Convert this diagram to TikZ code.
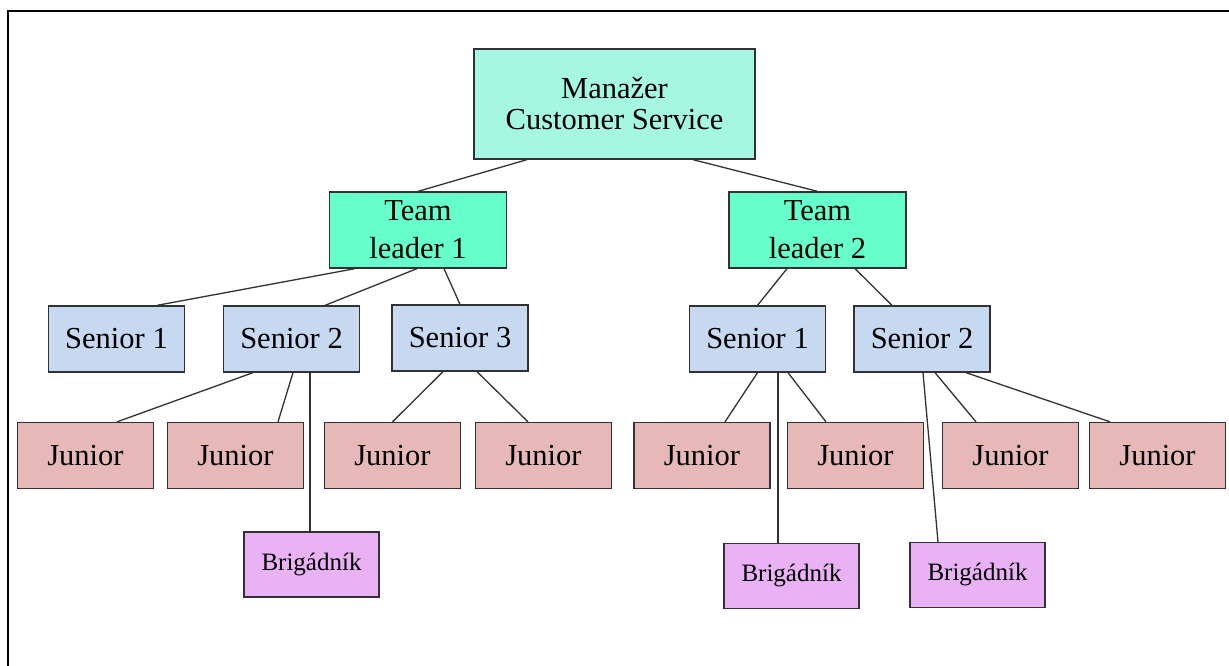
\documentclass[tikz,border=0pt]{standalone}
\usepackage{fontspec}
\setmainfont{Liberation Serif}
\definecolor{mgrfill}{RGB}{166,247,226}
\definecolor{tlfill}{RGB}{102,255,204}
\definecolor{senfill}{RGB}{198,217,241}
\definecolor{junfill}{RGB}{230,185,184}
\definecolor{brigfill}{RGB}{232,178,244}
\definecolor{edge}{RGB}{50,50,50}
\begin{document}
\begin{tikzpicture}[x=1pt,y=-1pt,
  box/.style={draw=edge, line width=1.3pt, inner sep=0pt, align=center,
    font=\fontsize{30.5}{38}\selectfont},
  mgr/.style={box, fill=mgrfill, minimum width=281pt, minimum height=110pt,
    font=\fontsize{30.5}{31}\selectfont},
  tl/.style={box, fill=tlfill, minimum width=177pt, minimum height=76pt},
  sen/.style={box, fill=senfill, minimum width=136pt, minimum height=66pt},
  jun/.style={box, fill=junfill, minimum width=136pt, minimum height=66pt},
  brig/.style={box, fill=brigfill, minimum width=135pt, minimum height=65pt,
    font=\fontsize{25}{30}\selectfont},
  conn/.style={draw=edge, line width=1.3pt}]
\useasboundingbox (0,0) rectangle (1229,666);
\draw[line width=2.6pt] (8,680) -- (8,11) -- (1240,11);

\node[mgr] (m) at (614.5,104) {Manažer\\Customer Service};
\node[tl] (tl1) at (418,230) {Team\\leader 1};
\node[tl] (tl2) at (817.5,230) {Team\\leader 2};

\node[sen] (s1l) at (116.5,339) {Senior 1};
\node[sen] (s2l) at (291.5,339) {Senior 2};
\node[sen] (s3l) at (460,338) {Senior 3};
\node[sen] (s1r) at (757.5,339) {Senior 1};
\node[sen] (s2r) at (922,339) {Senior 2};

\node[jun] (j1) at (85.5,455.5) {Junior};
\node[jun] (j2) at (235.5,455.5) {Junior};
\node[jun] (j3) at (392.5,455.5) {Junior};
\node[jun] (j4) at (543.5,455.5) {Junior};
\node[jun] (j5) at (702,455.5) {Junior};
\node[jun] (j6) at (855.5,455.5) {Junior};
\node[jun] (j7) at (1010.5,455.5) {Junior};
\node[jun] (j8) at (1157.5,455.5) {Junior};

\node[brig] (b1) at (311.5,564.5) {Brigádník};
\node[brig] (b2) at (791.5,576) {Brigádník};
\node[brig] (b3) at (977.5,575) {Brigádník};

\draw[conn] ([xshift=-87.5pt]m.south) -- (tl1.north);
\draw[conn] ([xshift=78.5pt]m.south) -- (tl2.north);

\draw[conn] ([xshift=-63pt]tl1.south) -- ([xshift=40.5pt]s1l.north);
\draw[conn] ([xshift=-1pt]tl1.south) -- ([xshift=33.5pt]s2l.north);
\draw[conn] ([xshift=26pt]tl1.south) -- (s3l.north);
\draw[conn] ([xshift=-30.5pt]tl2.south) -- (s1r.north);
\draw[conn] ([xshift=37.5pt]tl2.south) -- ([xshift=-30pt]s2r.north);

\draw[conn] ([xshift=-38.5pt]s2l.south) -- ([xshift=31.5pt]j1.north);
\draw[conn] ([xshift=1.5pt]s2l.south) -- ([xshift=42.5pt]j2.north);
\draw[conn] ([xshift=18.5pt]s2l.south) -- ([xshift=-1.5pt]b1.north);
\draw[conn] ([xshift=-17pt]s3l.south) -- (j3.north);
\draw[conn] ([xshift=17pt]s3l.south) -- ([xshift=-15.5pt]j4.north);

\draw[conn] (s1r.south) -- ([xshift=23pt]j5.north);
\draw[conn] ([xshift=20.5pt]s1r.south) -- ([xshift=-13.5pt]b2.north);
\draw[conn] ([xshift=30.5pt]s1r.south) -- ([xshift=-29.5pt]j6.north);
\draw[conn] ([xshift=1pt]s2r.south) -- ([xshift=-39.5pt]b3.north);
\draw[conn] ([xshift=13pt]s2r.south) -- ([xshift=-34.5pt]j7.north);
\draw[conn] ([xshift=44pt]s2r.south) -- ([xshift=-47.5pt]j8.north);
\end{tikzpicture}
\end{document}
